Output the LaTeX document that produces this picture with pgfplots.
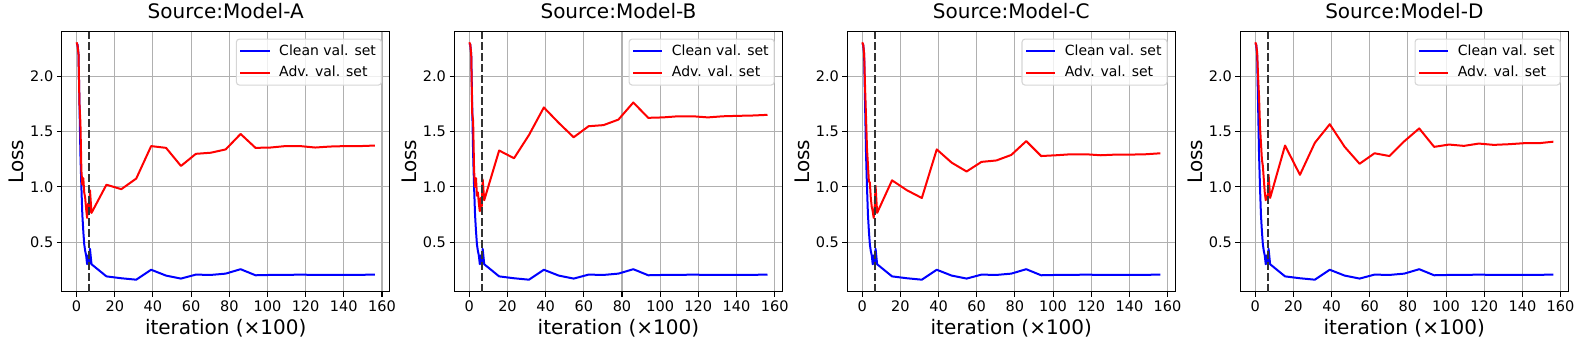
\documentclass[border=0pt]{standalone}
\usepackage{fontspec}
\setmainfont{DejaVu Sans}
\usepackage{pgfplots}
\pgfplotsset{compat=1.18}
\usepackage{pgfplotstable}

\definecolor{gridgray}{HTML}{B0B0B0}
\definecolor{legedge}{HTML}{D6D6D6}
\definecolor{vline}{HTML}{333333}

% x in hundreds of iterations; clean set is shared by all four panels
\pgfplotstableread{
x        clean  advA   advB   advC   advD
0        2.300  2.310  2.310  2.310  2.310
0.5      2.290  2.280  2.290  2.290  2.290
1.0      2.200  2.200  2.200  2.210  2.220
1.5      1.750  1.750  1.670  1.900  2.000
2.0      1.300  1.580  1.600  1.630  1.820
2.5      1.000  1.150  1.150  1.350  1.550
3.0      0.750  1.020  1.000  1.200  1.400
3.5      0.600  1.080  1.080  1.050  1.250
4.0      0.480  0.950  0.920  1.040  1.190
4.5      0.420  0.900  0.950  0.900  1.070
5.0      0.380  0.800  0.850  0.820  0.950
5.5      0.300  0.720  0.780  0.780  0.880
6.0      0.380  0.850  0.900  0.720  0.920
6.5      0.300  0.760  0.820  0.800  0.900
7.0      0.440  0.970  1.070  1.010  1.110
7.8125   0.300  0.765  0.880  0.765  0.900
15.625   0.190  1.020  1.330  1.060  1.375
23.4375  0.173  0.980  1.260  0.970  1.110
31.25    0.160  1.076  1.470  0.900  1.400
39.0625  0.250  1.370  1.720  1.340  1.568
46.875   0.197  1.354  1.580  1.220  1.363
54.6875  0.170  1.190  1.450  1.140  1.210
62.5     0.206  1.300  1.550  1.227  1.305
70.3125  0.203  1.310  1.560  1.240  1.280
78.125   0.215  1.340  1.610  1.290  1.414
85.9375  0.255  1.480  1.765  1.415  1.530
93.75    0.200  1.354  1.626  1.280  1.363
101.5625 0.203  1.357  1.630  1.287  1.384
109.375  0.203  1.370  1.640  1.296  1.372
117.1875 0.206  1.370  1.640  1.296  1.393
125      0.203  1.357  1.630  1.287  1.381
132.8125 0.203  1.366  1.640  1.293  1.387
140.625  0.203  1.370  1.644  1.293  1.396
148.4375 0.204  1.370  1.647  1.296  1.396
156.25   0.206  1.375  1.653  1.305  1.410
}\losstable

\pgfplotsset{
  every axis y label/.style={at={(axis description cs:0,0.5)}, xshift=-37.7pt,
    rotate=90, anchor=base, font=\fontsize{20}{24}\selectfont},
  lossaxis/.style={
    scale only axis, width=328pt, height=260pt,
    xmin=-7.8125, xmax=164.0625, ymin=0.05, ymax=2.405,
    xtick={0,20,...,160}, ytick={0.5,1.0,1.5,2.0},
    yticklabel style={/pgf/number format/.cd, fixed, fixed zerofill, precision=1},
    /pgf/number format/assume math mode=true,
    tick label style={font=\fontsize{14.5}{17}\selectfont},
    tick align=outside, tick pos=left, major tick length=4.9pt,
    tick style={line width=1.1pt, black},
    grid=major, major grid style={gridgray, line width=1.1pt},
    axis line style={line width=1.1pt},
    title style={at={(0.5,1)}, anchor=base, yshift=7.3pt,
      font=\fontsize{20}{24}\selectfont},
    xlabel={iteration (×100)}, ylabel={Loss},
    xlabel style={at={(axis description cs:0.5,0)}, anchor=base, yshift=-42.7pt,
      font=\fontsize{20}{24}\selectfont},
    legend cell align=left,
    legend image code/.code={\draw[##1, line width=2pt] (0pt,0pt) -- (29.3pt,0pt);},
    legend style={at={(1,1)}, anchor=north east, xshift=-7.7pt, yshift=-6.7pt,
      draw=legedge, line width=1.1pt, rounded corners=3pt, fill=white,
      fill opacity=0.8, text opacity=1, font=\fontsize{14}{16}\selectfont,
      inner xsep=3pt, inner ysep=3pt, row sep=3pt,
      /tikz/every odd column/.append style={column sep=6pt},
      nodes={inner sep=2.5pt, text height=10.5pt, text depth=3pt}},
  },
  cleanline/.style={blue, line width=2pt, line join=round},
  advline/.style={red, line width=2pt, line join=round},
  bestline/.style={vline, line width=2pt, dash pattern=on 7.7pt off 3.3pt, forget plot},
}

\newcommand{\losspanel}[3]{%
  \begin{axis}[lossaxis, at={(#1pt,54pt)}, anchor=south west, title={Source:Model-#2}]
    \addplot[cleanline] table[x=x, y=clean]{\losstable};
    \addlegendentry{Clean val. set}
    \addplot[advline] table[x=x, y=#3]{\losstable};
    \addlegendentry{Adv. val. set}
    \addplot[bestline] coordinates {(6.7,0.05) (6.7,2.405)};
  \end{axis}%
}

\begin{document}
\begin{tikzpicture}
\path (0,0) rectangle (1581pt,343pt);
\losspanel{61.7}{A}{advA}
\losspanel{454.4}{B}{advB}
\losspanel{847.3}{C}{advC}
\losspanel{1240.3}{D}{advD}
\end{tikzpicture}
\end{document}
